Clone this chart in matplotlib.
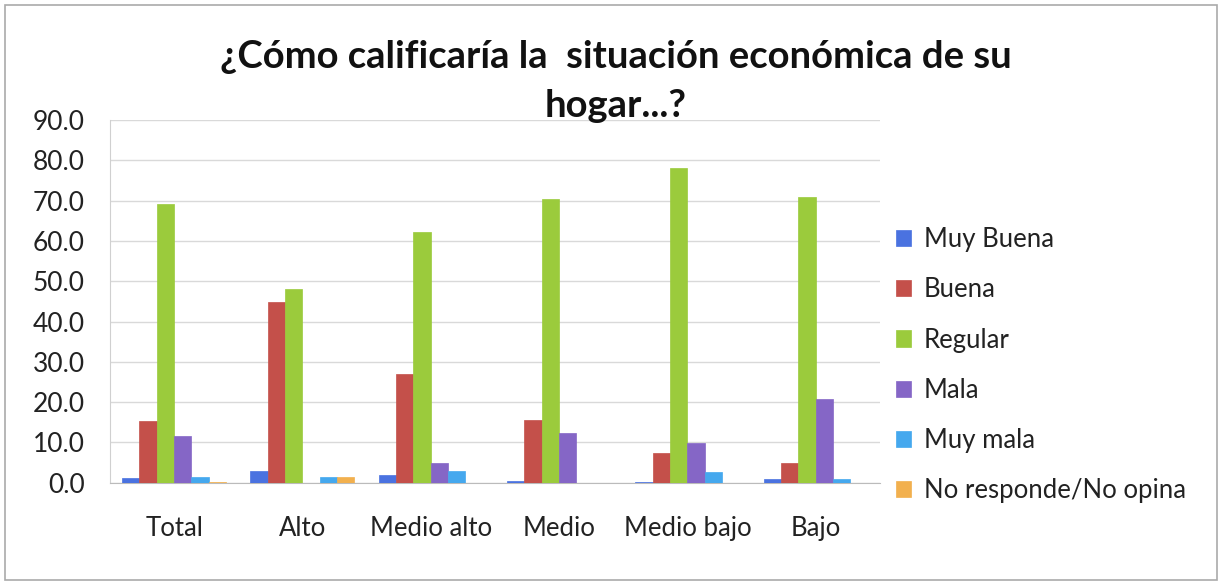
import matplotlib.pyplot as plt
import numpy as np
from matplotlib.patches import Rectangle

plt.rcParams['font.family'] = ['Lato', 'DejaVu Sans']

categories = ['Total', 'Alto', 'Medio alto', 'Medio', 'Medio bajo', 'Bajo']
series_names = ['Muy Buena', 'Buena', 'Regular', 'Mala', 'Muy mala', 'No responde/No opina']
muy_buena = [1.2, 3.0, 2.0, 0.5, 0.3, 1.0]
buena = [15.3, 44.8, 26.9, 15.6, 7.3, 5.0]
regular = [69.2, 48.0, 62.3, 70.5, 78.0, 71.0]
mala = [11.5, 0.0, 5.0, 12.3, 9.8, 20.8]
muy_mala = [1.5, 1.5, 3.0, 0.0, 2.7, 1.0]
no_responde = [0.2, 1.5, 0.0, 0.0, 0.0, 0.0]
y_ticks = [0, 10, 20, 30, 40, 50, 60, 70, 80, 90]

values = [muy_buena, buena, regular, mala, muy_mala, no_responde]
colors = ['#4A72E0', '#C4504A', '#9BCB3C', '#8566C6', '#45A8EE', '#F2B04E']

fig = plt.figure(figsize=(12.22, 5.83), dpi=100)
ax = fig.add_axes([0.09, 0.172, 0.63, 0.622])

x = np.arange(len(categories))
w = 0.135
for i, (name, vals, c) in enumerate(zip(series_names, values, colors)):
    ax.bar(x + (i - 2.5) * w, vals, w, color=c, label=name, zorder=3,
           edgecolor=c, linewidth=0.5)

ax.set_xlim(-0.5, len(categories) - 0.5)
ax.set_ylim(0, 90)
ax.set_yticks(y_ticks)
ax.set_yticklabels([f'{v:.1f}' for v in y_ticks], fontsize=19, color='#222222')
ax.set_xticks(x)
ax.set_xticklabels(categories, fontsize=18.5, color='#222222')
ax.tick_params(axis='both', length=0)
ax.tick_params(axis='x', pad=24)
ax.tick_params(axis='y', pad=18)
ax.grid(axis='y', color='#D9D9D9', linewidth=1, zorder=0)
for side in ['top', 'right']:
    ax.spines[side].set_visible(False)
ax.spines['left'].set_color('#D0D0D0')
ax.spines['bottom'].set_color('#BBBBBB')

fig.text(0.504, 0.902, '¿Cómo calificaría la  situación económica de su',
         ha='center', va='center', fontsize=27.5, fontweight='bold', color='#111111')
fig.text(0.504, 0.818, 'hogar...?', ha='center', va='center',
         fontsize=27.5, fontweight='bold', color='#111111')

ax.legend(loc='upper left', bbox_to_anchor=(0.714, 0.65), bbox_transform=fig.transFigure,
          frameon=False, fontsize=18.5, labelspacing=0.98, handlelength=0.6,
          handleheight=0.6, handletextpad=0.5, labelcolor='#222222')

# chart frame
fig.patches.append(Rectangle((0.004, 0.006), 0.992, 0.985, transform=fig.transFigure,
                             fill=False, edgecolor='#AAAAAA', linewidth=1.2))

fig.savefig('out.png', dpi=100)
